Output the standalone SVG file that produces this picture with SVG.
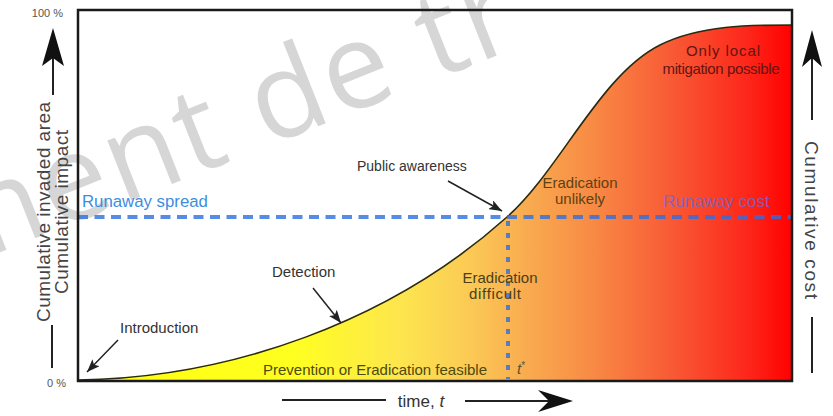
<svg xmlns="http://www.w3.org/2000/svg" width="833" height="416" viewBox="0 0 833 416">
<style>
text{font-family:"Liberation Sans",Arial,Helvetica,sans-serif}
.lbl{font-size:15px;fill:#333}
.axis{font-size:19px;fill:#444}
.pct{font-size:11px;fill:#555}
.zone{font-size:15px}
.conn{stroke:#222;stroke-width:1.5;fill:none}
.axl{stroke:#222;stroke-width:2;fill:none}
.ah{fill:#111}
.run{stroke:#2d6fe0;stroke-opacity:0.8;stroke-width:4;fill:none}
.wm{font-family:"Open Sans",sans-serif;font-size:120px;fill:#d6d6d6;letter-spacing:3px}
</style>
<defs>
<linearGradient id="heat" gradientUnits="userSpaceOnUse" x1="78" y1="0" x2="793" y2="0">
<stop offset="0" stop-color="#ffff10"/>
<stop offset="0.3" stop-color="#ffff20"/>
<stop offset="0.45" stop-color="#fde64e"/>
<stop offset="0.55" stop-color="#fbc955"/>
<stop offset="0.62" stop-color="#f9ae50"/>
<stop offset="0.72" stop-color="#f88a45"/>
<stop offset="0.83" stop-color="#f85a35"/>
<stop offset="0.93" stop-color="#fd2a1c"/>
<stop offset="1" stop-color="#ff0000"/>
</linearGradient>
<marker id="arr" markerUnits="userSpaceOnUse" markerWidth="14" markerHeight="10" refX="13" refY="5" orient="auto">
<path d="M0,0 L13,5 L0,10 L3,5 Z" fill="#222"/>
</marker>
</defs>
<rect width="833" height="416" fill="#fff"/>
<g id="watermark">
<text class="wm" transform="translate(-50,272) rotate(-21.6)">ment de tr</text>
</g>
<g id="area">
<path d="M78,381 L78,380 C230,378 390,322 507,217 C560,170 600,75 660,45 C700,25 750,25 793,25 L793,381 Z" fill="url(#heat)"/>
<path d="M78,380 C230,378 390,322 507,217 C560,170 600,75 660,45 C700,25 750,25 793,25" fill="none" stroke="#2a2a10" stroke-width="1.6"/>
</g>
<g id="runaway-lines">
<line class="run" x1="78" y1="217" x2="792" y2="217" stroke-dasharray="10 6.5"/>
<line class="run" x1="508" y1="221" x2="508" y2="379" stroke-dasharray="5 7"/>
</g>
<g id="frame">
<rect x="78" y="10" width="714" height="371" fill="none" stroke="#1a1a1a" stroke-width="2.5"/>
</g>
<g id="y-axis">
<text class="pct" x="63" y="17" text-anchor="end">100 %</text>
<text class="pct" x="66" y="387" text-anchor="end">0 %</text>
<text class="axis" transform="translate(50,212) rotate(-90)" text-anchor="middle" textLength="220">Cumulative invaded area</text>
<text class="axis" transform="translate(68,212) rotate(-90)" text-anchor="middle" textLength="164">Cumulative impact</text>
<line class="axl" x1="53" y1="56" x2="53" y2="95"/>
<path class="ah" d="M53,28 L64,66 L53,58 L42,66 Z"/>
<line class="axl" x1="52" y1="325" x2="52" y2="368"/>
</g>
<g id="cost-axis">
<text class="axis" transform="translate(805,220) rotate(90)" text-anchor="middle" textLength="158">Cumulative cost</text>
<line class="axl" x1="812" y1="58" x2="812" y2="120"/>
<path class="ah" d="M812,30 L822,67 L812,58 L802,67 Z"/>
<line class="axl" x1="812" y1="317" x2="812" y2="373"/>
</g>
<g id="time-axis">
<line class="axl" x1="282" y1="400" x2="386" y2="400"/>
<text x="421" y="407" text-anchor="middle" font-size="17" fill="#333">time, <tspan font-style="italic">t</tspan></text>
<line class="axl" x1="465" y1="401" x2="550" y2="401"/>
<path class="ah" d="M573,401 L538,390 L549,401 L538,412 Z"/>
</g>
<g id="introduction">
<text class="lbl" x="120" y="333">Introduction</text>
</g>
<g id="detection">
<text class="lbl" x="272" y="277">Detection</text>
</g>
<g id="public-awareness">
<text class="lbl" x="357" y="171" style="font-size:14px">Public awareness</text>
</g>
<g id="prevention">
<text class="zone" x="263" y="375" fill="#4d4a10" textLength="224">Prevention or Eradication feasible</text>
</g>
<g id="t-star">
<text class="zone" x="517" y="374" fill="#5a5530"><tspan font-style="italic">t</tspan><tspan font-size="10" dy="-5">*</tspan></text>
</g>
<g id="eradication-difficult">
<text class="zone" x="500" y="283" text-anchor="middle" fill="#4a4018">Eradication</text>
<text class="zone" x="495" y="299" text-anchor="middle" fill="#4a4018" textLength="52">difficult</text>
</g>
<g id="eradication-unlikely">
<text class="zone" x="580" y="188" text-anchor="middle" fill="#5e420e">Eradication</text>
<text class="zone" x="580" y="204" text-anchor="middle" fill="#5e420e">unlikely</text>
</g>
<g id="only-local">
<text class="zone" x="723" y="56" text-anchor="middle" fill="#641410" textLength="74">Only local</text>
<text class="zone" x="721" y="74" text-anchor="middle" fill="#641410" textLength="117">mitigation possible</text>
</g>
<g id="runaway-spread">
<text x="82" y="207" font-size="16.8" fill="#3d8de0">Runaway spread</text>
</g>
<g id="runaway-cost">
<text x="663" y="207" font-size="17" fill="#6a6ad0" fill-opacity="0.8">Runaway cost</text>
</g>
<g id="connectors">
<line class="conn" x1="118" y1="340" x2="87" y2="372" marker-end="url(#arr)"/>
<line class="conn" x1="313" y1="288" x2="341" y2="323" marker-end="url(#arr)"/>
<line class="conn" x1="448" y1="181" x2="502" y2="211" marker-end="url(#arr)"/>
</g>
</svg>
